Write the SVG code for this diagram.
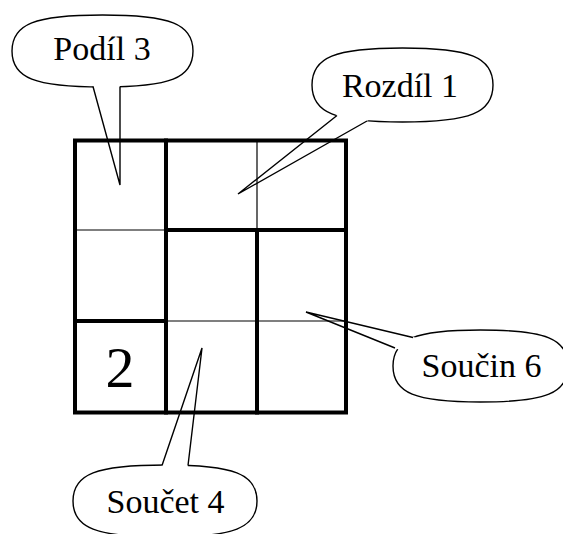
<svg xmlns="http://www.w3.org/2000/svg" width="563" height="534" viewBox="0 0 563 534">
<style>
.bub{fill:#fff;stroke:#000;stroke-width:1.4}
.tf{fill:#fff;stroke:none}
.tl{fill:none;stroke:#000;stroke-width:1.4;stroke-linejoin:miter}
.lab{font-family:"Liberation Serif","DejaVu Serif",serif;font-size:34px;fill:#000;text-anchor:middle}
.thick{stroke:#000;stroke-width:4;stroke-linecap:square;fill:none}
.thin{stroke:#000;stroke-width:1.2;fill:none}
</style>
<rect width="563" height="534" fill="#fff"/>
<g id="podil3">
<path class="bub" d="M102.5,15 C170.4,15 193,24 193,51 C193,78 170.4,87 102.5,87 C34.6,87 12,78 12,51 C12,24 34.6,15 102.5,15 Z"/>
<text class="lab" x="102" y="60">Podíl 3</text>
</g>
<g id="rozdil1">
<path class="bub" d="M402.5,48 C470.4,48 493,57.25 493,85 C493,112.75 470.4,122 402.5,122 C334.6,122 312,112.75 312,85 C312,57.25 334.6,48 402.5,48 Z"/>
<text class="lab" x="400" y="97">Rozdíl 1</text>
</g>
<g id="soucin6">
<path class="bub" d="M480.5,330 C546.1,330 568,339 568,366 C568,393 546.1,402 480.5,402 C414.9,402 393,393 393,366 C393,339 414.9,330 480.5,330 Z"/>
<text class="lab" x="481.5" y="377">Součin 6</text>
</g>
<g id="soucet4">
<path class="bub" d="M165,465 C234,465 257,474 257,501 C257,528 234,537 165,537 C96,537 73,528 73,501 C73,474 96,465 165,465 Z"/>
<text class="lab" x="165.5" y="513">Součet 4</text>
</g>
<g id="connectors">
<polygon class="tf" points="91.6,80 120,80 120,185"/>
<polyline class="tl" points="93,86.5 120,185 120,86.5"/>
<polygon class="tf" points="343,110 374.7,116.6 238,194"/>
<polyline class="tl" points="337,115.5 238,194 367,121"/>
<polygon class="tf" points="419.4,338.5 400.3,350.2 306,312"/>
<polyline class="tl" points="413,337.5 306,312 395,348"/>
<polygon class="tf" points="159.6,472 187.2,472 202,348"/>
<polyline class="tl" points="162,465.5 202,348 188,465.5"/>
</g>
<g id="grid">
<line class="thin" x1="257" y1="140.5" x2="257" y2="230"/>
<line class="thin" x1="75" y1="230" x2="166" y2="230"/>
<line class="thin" x1="166" y1="321" x2="346" y2="321"/>
<line class="thick" x1="166" y1="140.5" x2="166" y2="412.5"/>
<line class="thick" x1="257" y1="230" x2="257" y2="412.5"/>
<line class="thick" x1="166" y1="230" x2="346" y2="230"/>
<line class="thick" x1="75" y1="321" x2="166" y2="321"/>
<rect class="thick" x="75" y="140.5" width="271" height="272"/>
</g>
<g id="cell-r3c1">
<text x="120" y="387" font-family="'Liberation Serif','DejaVu Serif',serif" font-size="58" text-anchor="middle">2</text>
</g>
</svg>
